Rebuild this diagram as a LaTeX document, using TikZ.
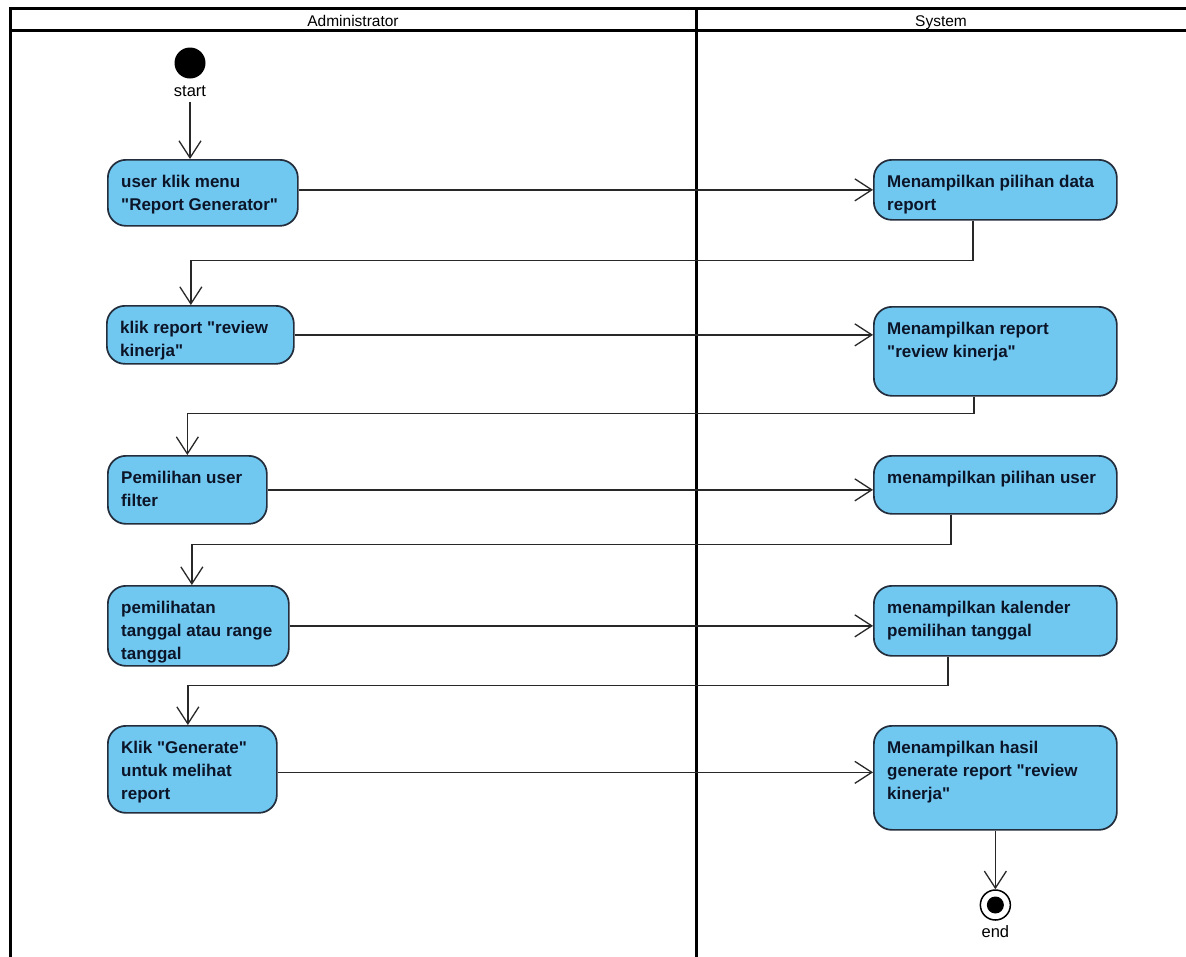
\documentclass[tikz,border=0pt]{standalone}
\usepackage{fontspec}
\setmainfont{Liberation Sans}[Ligatures=TeXOff]
\usetikzlibrary{arrows.meta,calc}

\definecolor{actfill}{RGB}{112,200,240}
\definecolor{actline}{RGB}{35,45,60}
\definecolor{acttext}{RGB}{12,20,40}
\definecolor{wire}{RGB}{40,40,40}

% activity: name, left, top, width, height, text
\newcommand{\activity}[6]{%
  \node[actbox, minimum width=#4pt, minimum height=#5pt] (#1) at (#2,#3) {};
  \node[actlabel] (#1-text) at ($(#1.north west)+(14,28)$)
    {\parbox[t]{#4pt}{\raggedright\fontsize{17}{23}\selectfont\bfseries #6}};
}

\begin{document}
\begin{tikzpicture}[x=1pt,y=-1pt,
  actbox/.style={draw=actline, line width=1.7pt, fill=actfill, rounded corners=18pt,
    inner sep=0pt, anchor=north west},
  actlabel/.style={anchor=base west, inner sep=0pt, text=acttext},
  flow/.style={draw=wire, line width=1.5pt,
    -{Straight Barb[length=17pt,width=22pt,line width=1.3pt]}},
  lane/.style={line width=3pt, draw=black},
  lanetitle/.style={font=\fontsize{15.5}{18}\selectfont, inner sep=0pt, anchor=base},
  caption/.style={font=\fontsize{16.5}{19}\selectfont, inner sep=0pt, anchor=base}
]
\fill[white] (0,0) rectangle (1186,956);
\useasboundingbox (0,0) rectangle (1186,956);

% swimlanes
\draw[lane] (1192,8) -- (10,8) -- (10,962);
\draw[lane] (10,30) -- (1192,30);
\draw[lane] (696,8) -- (696,962);
\node[lanetitle] (laneA) at (353,26) {Administrator};
\node[lanetitle] (laneS) at (941,26) {System};

% initial node
\node[circle, fill=black, minimum size=31pt, inner sep=0pt] (start) at (190,63) {};
\node[caption] (startlabel) at (190,96) {start};

% activities
\activity{a1}{107}{159}{190}{66}{user klik menu\\"Report Generator"}
\activity{a2}{873}{159}{243}{60}{Menampilkan pilihan data\\report}
\activity{a3}{106}{305}{187}{58}{klik report "review\\kinerja"}
\activity{a4}{873}{306}{243}{89}{Menampilkan report\\"review kinerja"}
\activity{a5}{107}{455}{159}{68}{Pemilihan user\\filter}
\activity{a6}{873}{455}{243}{58}{menampilkan pilihan user}
\activity{a7}{107}{585}{181}{80}{pemilihatan\\tanggal atau range\\tanggal}
\activity{a8}{873}{585}{243}{70}{menampilkan kalender\\pemilihan tanggal}
\activity{a9}{107}{725}{169}{87}{Klik "Generate"\\untuk melihat\\report}
\activity{a10}{873}{725}{243}{104}{Menampilkan hasil\\generate report "review\\kinerja"}

% final node
\node[circle, draw=black, line width=1.5pt, fill=white, minimum size=30pt, inner sep=0pt] (end) at (a10.south |- 0,905) {};
\node[circle, fill=black, minimum size=17pt, inner sep=0pt] (endcore) at (end.center) {};
\node[caption] (endlabel) at (end.center |- 0,937) {end};

% control flows
\draw[flow] ($(startlabel.south)+(0,6)$) -- (startlabel.south |- a1.north);
\draw[flow] ([yshift=3pt]a1.east) -- ([yshift=3pt]a1.east -| a2.west);
\draw[flow] ([xshift=-22.5pt]a2.south) -- ++(0,40) -| ([xshift=-9.5pt]a3.north);
\draw[flow] (a3.east) -- (a3.east -| a4.west);
\draw[flow] ([xshift=-21.5pt]a4.south) -- ++(0,17) -| (a5.north);
\draw[flow] (a5.east) -- (a5.east -| a6.west);
\draw[flow] ([xshift=-44.5pt]a6.south) -- ++(0,30) -| ([xshift=-6.5pt]a7.north);
\draw[flow] (a7.east) -- (a7.east -| a8.west);
\draw[flow] ([xshift=-47.5pt]a8.south) -- ++(0,29) -| ([xshift=-4.5pt]a9.north);
\draw[flow] ([yshift=-3pt]a9.east) -- ([yshift=-3pt]a9.east -| a10.west);
\draw[flow] (a10.south) -- (a10.south |- end.north);
\end{tikzpicture}
\end{document}
